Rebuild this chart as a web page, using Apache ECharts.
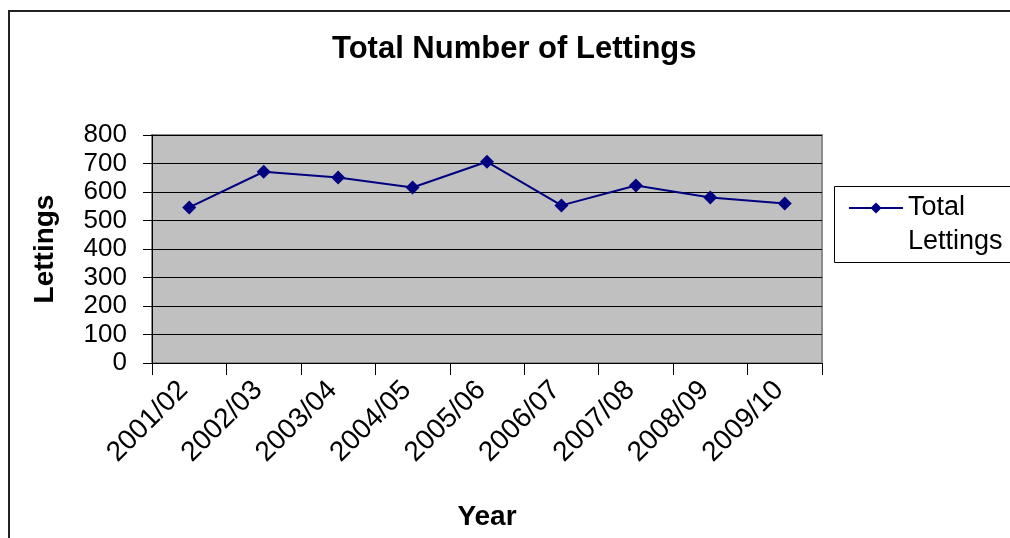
<!DOCTYPE html>
<html>
<head>
<meta charset="utf-8">
<script src="https://cdn.jsdelivr.net/npm/echarts@6/dist/echarts.min.js"></script>
<style>
  html, body { margin: 0; padding: 0; background: #fff; overflow: hidden; }
  #chart { width: 1010px; height: 538px; }
</style>
</head>
<body>
<div id="chart"></div>
<script>
// Lettings per financial year
const years = ['2001/02', '2002/03', '2003/04', '2004/05', '2005/06', '2006/07', '2007/08', '2008/09', '2009/10'];
const totalLettings = [546, 671, 651, 616, 706, 553, 623, 581, 560];
const yTicks = { min: 0, max: 800, step: 100 };

const FONT = '"Liberation Sans", Arial, sans-serif';
const NAVY = '#000080';

const chart = echarts.init(document.getElementById('chart'), null, { renderer: 'canvas' });

chart.setOption({
  animation: false,
  backgroundColor: '#ffffff',
  textStyle: { fontFamily: FONT, color: '#000' },
  title: {
    text: 'Total Number of Lettings',
    left: 332,
    top: 34,
    padding: 0,
    textStyle: { fontFamily: FONT, fontSize: 31, fontWeight: 'bold', color: '#000' }
  },
  legend: {
    left: 848,
    top: 157,
    padding: 0,
    itemWidth: 54,
    itemHeight: 14,
    itemGap: 0,
    // blank first line keeps "Total" level with the icon
    formatter: () => '\nTotal\nLettings',
    textStyle: {
      fontFamily: FONT,
      fontSize: 27,
      color: '#000',
      lineHeight: 34
    },
    data: ['Total Lettings']
  },
  grid: {
    left: 152,
    right: 188,
    top: 135,
    bottom: 175,
    show: true,
    backgroundColor: '#c0c0c0',
    borderColor: '#8c8c8c',
    borderWidth: 2,
    containLabel: false,
    outerBoundsMode: 'none'
  },
  xAxis: {
    type: 'category',
    data: years,
    boundaryGap: true,
    name: 'Year',
    nameLocation: 'middle',
    nameGap: 140,
    nameTextStyle: { fontFamily: FONT, fontSize: 28, fontWeight: 'bold', color: '#000' },
    axisLine: { show: true, lineStyle: { color: '#000', width: 1 } },
    axisTick: { show: true, inside: false, length: 12, alignWithLabel: false, lineStyle: { color: '#000' } },
    axisLabel: {
      rotate: 45,
      margin: 17,
      padding: [0, 8, 0, 0],
      interval: 0,
      fontFamily: FONT,
      fontSize: 28,
      color: '#000'
    },
    splitLine: { show: false }
  },
  yAxis: {
    type: 'value',
    min: yTicks.min,
    max: yTicks.max,
    interval: yTicks.step,
    name: 'Lettings',
    nameLocation: 'middle',
    nameGap: 93,
    nameRotate: 90,
    nameTextStyle: { fontFamily: FONT, fontSize: 28, fontWeight: 'bold', color: '#000' },
    axisLine: { show: true, lineStyle: { color: '#000', width: 1 } },
    axisTick: { show: true, inside: false, length: 9, lineStyle: { color: '#000' } },
    axisLabel: { margin: 25, fontFamily: FONT, fontSize: 26, color: '#000' },
    splitLine: { show: true, lineStyle: { color: '#000', width: 1 } }
  },
  series: [{
    name: 'Total Lettings',
    type: 'line',
    data: totalLettings,
    symbol: 'diamond',
    symbolSize: 14,
    showSymbol: true,
    lineStyle: { color: NAVY, width: 2 },
    itemStyle: { color: NAVY, borderWidth: 0 }
  }],
  graphic: [
    {
      // outer chart-area frame
      type: 'rect',
      silent: true,
      shape: { x: 9, y: 11, width: 1200, height: 700 },
      style: { fill: 'none', stroke: '#222', lineWidth: 2 }
    },
    {
      // legend frame
      type: 'rect',
      silent: true,
      shape: { x: 834.5, y: 186.5, width: 300, height: 76 },
      style: { fill: 'none', stroke: '#000', lineWidth: 1 }
    }
  ]
});
</script>
</body>
</html>
